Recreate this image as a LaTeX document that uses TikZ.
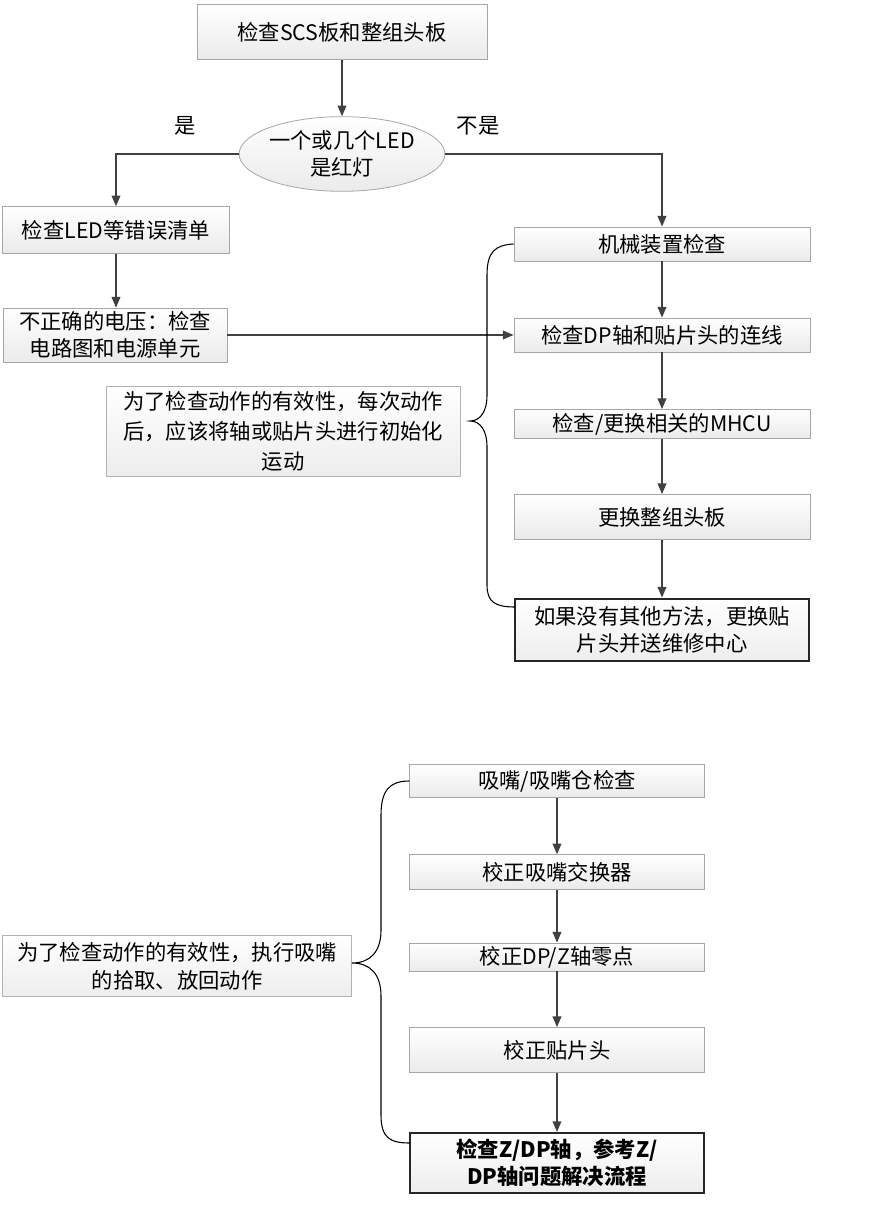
\documentclass[tikz,border=0pt]{standalone}
\usepackage{fontspec}
\setmainfont{Noto Sans CJK SC}
\usetikzlibrary{arrows.meta,shapes.geometric}
\begin{document}
\begin{tikzpicture}[x=0.75pt,y=-0.75pt,
  every node/.style={font=\fontsize{16pt}{20pt}\selectfont, inner sep=0pt, align=center},
  box/.style={draw=gray!70, line width=0.6pt, top color=white, bottom color=gray!16, minimum width=222pt},
  bbox/.style={box, minimum width=221pt},
  final/.style={draw=black!85, line width=1.6pt, top color=white, bottom color=gray!14},
  note/.style={draw=gray!60, line width=0.6pt, top color=white, bottom color=gray!14},
  arr/.style={draw=black!75, line width=1.1pt, -{Triangle[length=8pt,width=6.5pt]}},
  brace/.style={draw=black, line width=0.8pt},
  lbl/.style={font=\fontsize{16pt}{20pt}\selectfont}]
\useasboundingbox (0,0) rectangle (879,1205);
% top part
\node[box, minimum width=217.5pt, minimum height=41.25pt] (b1) at (342,32) {检查SCS板和整组头板};
\node[ellipse, draw=gray!70, line width=0.6pt, top color=white, bottom color=gray!16, minimum width=146pt, minimum height=56pt] (e) at (342,154) {一个或几个LED\\是红灯};
\node[box, minimum width=170pt, minimum height=35pt] (b3) at (116,230) {检查LED等错误清单};
\node[box, minimum width=168pt, minimum height=40.5pt] (b4) at (115,335) {不正确的电压：检查\\电路图和电源单元};
\node[note, minimum width=265.5pt, minimum height=67.5pt, font=\fontsize{16pt}{22.5pt}\selectfont] (n1) at (283,431) {为了检查动作的有效性，每次动作\\后，应该将轴或贴片头进行初始化\\运动};
\node[box, minimum height=25.5pt] (b6) at (662,244) {机械装置检查};
\node[box, minimum height=25.5pt] (b7) at (662,335) {检查DP轴和贴片头的连线};
\node[box, minimum height=21.75pt] (b8) at (662,424) {检查/更换相关的MHCU};
\node[box, minimum height=33.75pt] (b9) at (662,517) {更换整组头板};
\node[final, minimum width=221pt, minimum height=47pt] (b10) at (662,630) {如果没有其他方法，更换贴\\片头并送维修中心};
\node[lbl] (yes) at (185,126) {是};
\node[lbl] (no) at (478,126) {不是};
\draw[arr] (b1) -- (e);
\draw[arr] (e.west) -| (b3.north);
\draw[arr] (e.east) -| (b6.north);
\draw[arr] (b3.south) -- (b3.south |- b4.north);
\draw[arr] (b4.east) -- (b7.west);
\draw[arr] (b6) -- (b7);
\draw[arr] (b7) -- (b8);
\draw[arr] (b8) -- (b9);
\draw[arr] (b9) -- (b10);
\coordinate (t1) at (470,421);
\draw[brace] (b6.west) .. controls (495,245) and (487,252) .. (487,275) -- (487,395)
  .. controls (487,412) and (480,421) .. (t1)
  .. controls (480,421) and (487,430) .. (487,447) -- (487,585)
  .. controls (487,602) and (495,607) .. (515,607);
% bottom part
\node[bbox, minimum height=24.75pt] (c1) at (557,781) {吸嘴/吸嘴仓检查};
\node[bbox, minimum height=26pt] (c2) at (557,872) {校正吸嘴交换器};
\node[bbox, minimum height=21pt] (c3) at (557,957) {校正DP/Z轴零点};
\node[bbox, minimum height=33.75pt] (c4) at (557,1050) {校正贴片头};
\node[final, minimum width=221pt, minimum height=45pt, font=\fontsize{16pt}{20pt}\selectfont\bfseries] (c5) at (557,1163) {检查Z/DP轴，参考Z/\\DP轴问题解决流程};
\node[note, minimum width=261.75pt, minimum height=45.75pt, font=\fontsize{16pt}{21pt}\selectfont] (n2) at (177,966) {为了检查动作的有效性，执行吸嘴\\的拾取、放回动作};
\draw[arr] (c1) -- (c2);
\draw[arr] (c2) -- (c3);
\draw[arr] (c3) -- (c4);
\draw[arr] (c4) -- (c5);
\coordinate (t2) at (352,963);
\draw[brace] (c1.west) .. controls (390,781) and (381,790) .. (381,815) -- (381,930)
  .. controls (381,952) and (370,963) .. (t2)
  .. controls (370,963) and (381,974) .. (381,996) -- (381,1115)
  .. controls (381,1138) and (390,1143) .. (410,1143);
\end{tikzpicture}
\end{document}
